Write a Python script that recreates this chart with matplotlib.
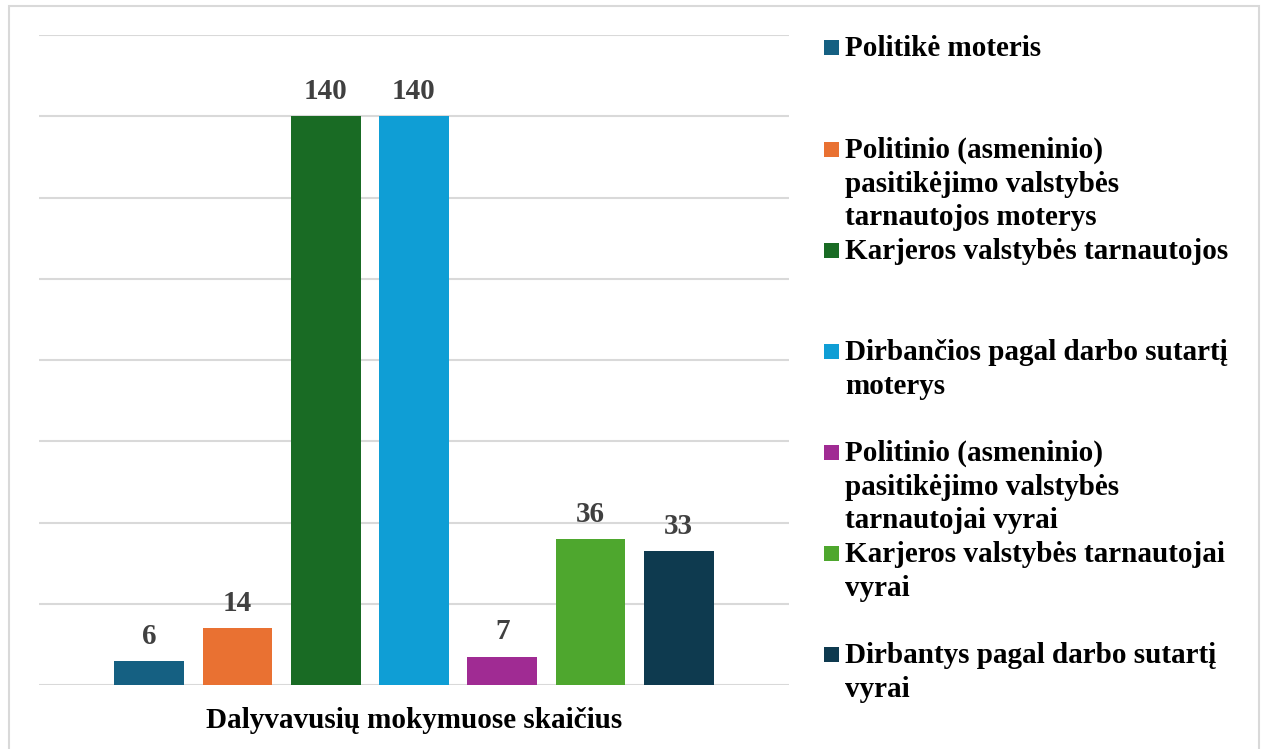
import matplotlib
matplotlib.use("Agg")
import matplotlib.pyplot as plt
from matplotlib.patches import Rectangle

categories = [
    "Politikė moteris",
    "Politinio (asmeninio)\npasitikėjimo valstybės\ntarnautojos moterys",
    "Karjeros valstybės tarnautojos",
    "Dirbančios pagal darbo sutartį\nmoterys",
    "Politinio (asmeninio)\npasitikėjimo valstybės\ntarnautojai vyrai",
    "Karjeros valstybės tarnautojai\nvyrai",
    "Dirbantys pagal darbo sutartį\nvyrai",
]
values = [6, 14, 140, 140, 7, 36, 33]
colors = ["#156082", "#E97132", "#196B24", "#0F9ED5", "#A02B93", "#4EA72E", "#0E3A4F"]
xlabel = "Dalyvavusių mokymuose skaičius"
yticks = [0, 20, 40, 60, 80, 100, 120, 140, 160]

plt.rcParams['font.family'] = ['Liberation Serif', 'DejaVu Serif']
W, H = 1262, 749
fig = plt.figure(figsize=(W / 100, H / 100), dpi=100)

# outer border
fig.patches.append(Rectangle((9 / W, -0.01), (1259 - 9) / W, (H - 6) / H + 0.01,
                             transform=fig.transFigure, fill=False,
                             edgecolor="#d9d9d9", linewidth=1.5))

ax = fig.add_axes([39 / W, 1 - 685 / H, (789 - 39) / W, (685 - 35) / H])
x = list(range(len(values)))
bars = ax.bar(x, values, width=0.79, color=colors, zorder=3)
ax.set_xlim(-1.25, 7.25)
ax.set_ylim(0, 160)
ax.set_yticks(yticks)
ax.yaxis.grid(True, color="#d9d9d9", linewidth=1.5, zorder=0)
ax.set_axisbelow(True)
for s in ax.spines.values():
    s.set_visible(False)
ax.tick_params(left=False, bottom=False, labelleft=False, labelbottom=False)

for b, v in zip(bars, values):
    ax.annotate(str(v), (b.get_x() + b.get_width() / 2, v), xytext=(0, 8),
                textcoords="offset points", ha="center", va="bottom",
                fontsize=21, fontweight="bold", color="#404040")

fig.text((39 + 789) / 2 / W, 1 - 721 / H, xlabel, ha="center", va="center",
         fontsize=21, fontweight="bold", color="black")

# legend
slot_top = [35, 137, 238, 339, 440, 541, 642]
for lbl, c, yt in zip(categories, colors, slot_top):
    fig.patches.append(Rectangle((824 / W, 1 - (yt + 20) / H), 15 / W, 15 / H,
                                 transform=fig.transFigure, facecolor=c, edgecolor="none"))
    fig.text(845 / W, 1 - yt / H, lbl, ha="left", va="top", fontsize=21,
             fontweight="bold", color="black", linespacing=1.31)

fig.savefig("out.png", dpi=100)
